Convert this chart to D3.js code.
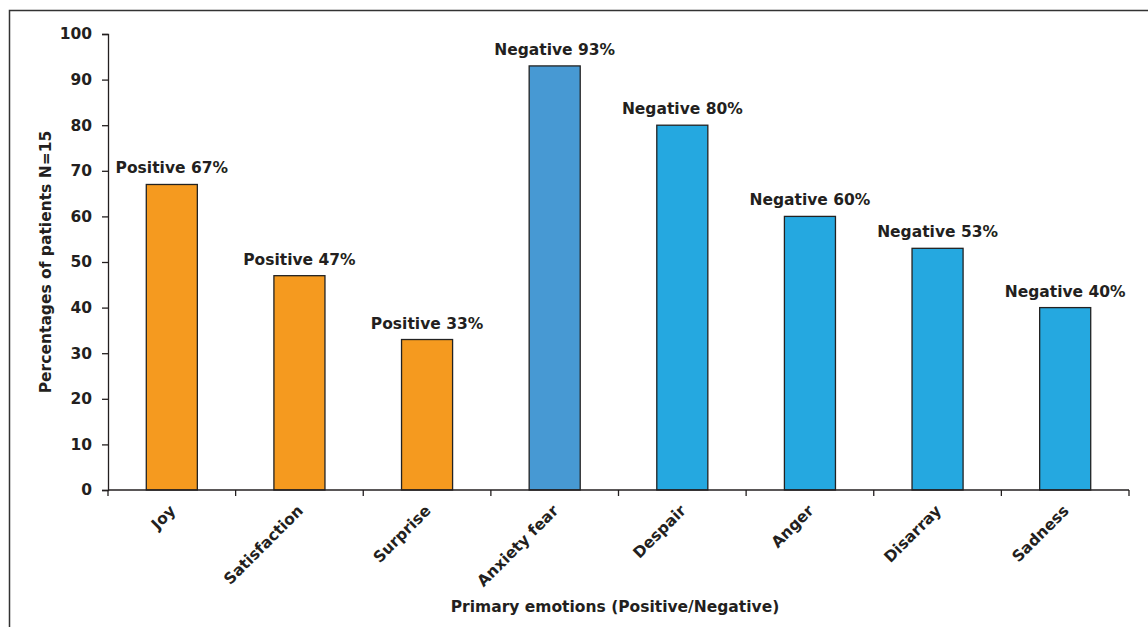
<!DOCTYPE html>
<html>
<meta charset="utf-8">
<head>
<title>Primary emotions</title>
<script src="https://cdnjs.cloudflare.com/ajax/libs/d3/7.8.5/d3.min.js"></script>
<style>
  body { margin: 0; background: #fff; }
  text { font-family: "DejaVu Sans", Verdana, sans-serif; font-weight: bold; fill: #231f20; }
</style>
</head>
<body>
<script>

const width = 1148,
    height = 627;

// Data
const emotions = ["Joy", "Satisfaction", "Surprise", "Anxiety fear", "Despair", "Anger", "Disarray", "Sadness"];
const percentages = [67, 47, 33, 93, 80, 60, 53, 40];
const valence = ["Positive", "Positive", "Positive", "Negative", "Negative", "Negative", "Negative", "Negative"];
const yTicks = [0, 10, 20, 30, 40, 50, 60, 70, 80, 90, 100];

const colourFor = (v, i) => v === "Positive" ? "#f59a1f" : (i === 3 ? "#4799d3" : "#25a8e0");

const margin = {left: 108, right: 19, top: 34, bottom: 137};
const fontSize = "15.5px";

const svg = d3.select("body")
    .append("svg")
    .attr("width", width)
    .attr("height", height);

// frame round the whole figure (runs off the right and bottom)
svg.append("rect")
    .attr("x", 9.5)
    .attr("y", 10.5)
    .attr("width", width + 20)
    .attr("height", height + 20)
    .attr("fill", "none")
    .attr("stroke", "#333")
    .attr("stroke-width", 1.5);

const x = d3.scaleBand()
    .domain(emotions)
    .range([margin.left, width - margin.right])
    .paddingInner(0.6)
    .paddingOuter(0.3);

const y = d3.scaleLinear()
    .domain([0, 100])
    .range([height - margin.bottom, margin.top]);

const data = emotions.map((e, i) => ({name: e, value: percentages[i], kind: valence[i], idx: i}));

// bars
svg.selectAll("rect.bar")
    .data(data)
    .enter()
    .append("rect")
    .attr("class", "bar")
    .attr("x", d => x(d.name))
    .attr("y", d => y(d.value))
    .attr("width", x.bandwidth())
    .attr("height", d => y(0) - y(d.value))
    .attr("fill", d => colourFor(d.kind, d.idx))
    .attr("stroke", "#222")
    .attr("stroke-width", 1.3);

// value labels
svg.selectAll("text.val")
    .data(data)
    .enter()
    .append("text")
    .attr("class", "val")
    .attr("x", d => x(d.name) + x.bandwidth() / 2)
    .attr("y", d => y(d.value) - 11)
    .attr("text-anchor", "middle")
    .attr("font-size", fontSize)
    .text(d => d.kind + " " + d.value + "%");

// y axis
const yAxis = svg.append("g")
    .attr("transform", `translate(${margin.left},0)`)
    .call(d3.axisLeft(y).tickValues(yTicks).tickSize(6).tickPadding(10));
yAxis.selectAll("text").attr("font-size", fontSize).style("font-family", null);
yAxis.selectAll("line, path").attr("stroke", "#231f20").attr("stroke-width", 1.3);

// x axis: ticks sit at the band boundaries, like the original
const boundaries = d3.range(emotions.length + 1).map(i => margin.left + i * (width - margin.right - margin.left) / emotions.length);
const xg = svg.append("g");
xg.append("line")
    .attr("x1", margin.left)
    .attr("x2", width - margin.right)
    .attr("y1", y(0))
    .attr("y2", y(0))
    .attr("stroke", "#231f20")
    .attr("stroke-width", 1.3);
xg.selectAll("line.tick")
    .data(boundaries)
    .enter()
    .append("line")
    .attr("class", "tick")
    .attr("x1", d => d)
    .attr("x2", d => d)
    .attr("y1", y(0))
    .attr("y2", y(0) + 6)
    .attr("stroke", "#231f20")
    .attr("stroke-width", 1.3);

xg.selectAll("text.cat")
    .data(emotions)
    .enter()
    .append("text")
    .attr("class", "cat")
    .attr("transform", d => `translate(${x(d) + x.bandwidth() / 2 - 3},${y(0) + 14}) rotate(-45)`)
    .attr("text-anchor", "end")
    .attr("dy", "0.7em")
    .attr("font-size", fontSize)
    .text(d => d);

// axis titles
svg.append("text")
    .attr("transform", `translate(51,${(y(0) + y(100)) / 2}) rotate(-90)`)
    .attr("text-anchor", "middle")
    .attr("font-size", fontSize)
    .text("Percentages of patients N=15");

svg.append("text")
    .attr("x", 615)
    .attr("y", 612)
    .attr("text-anchor", "middle")
    .attr("font-size", fontSize)
    .text("Primary emotions (Positive/Negative)");

</script>
</body>
</html>
